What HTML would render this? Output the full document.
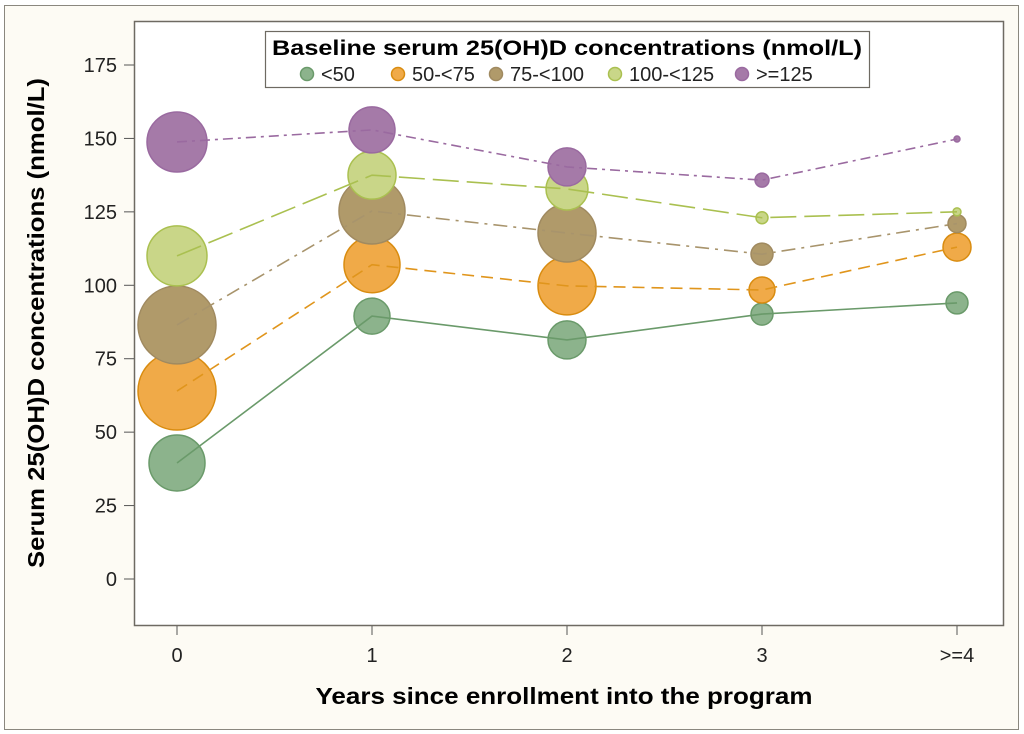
<!DOCTYPE html>
<html><head><meta charset="utf-8"><style>
body{margin:0;background:#fff;}
svg{display:block;font-family:"Liberation Sans",Arial,sans-serif;}
</style></head><body>
<svg id="chart" width="1024" height="734" viewBox="0 0 1024 734">
<rect x="4.5" y="5.5" width="1014" height="724" fill="#fdfbf4" stroke="#8a877e"/>
<rect x="134.5" y="21.5" width="869" height="604" fill="#ffffff" stroke="#6e6a62" stroke-width="1.5"/>
<g id="axes"></g>
<g id="marks"></g>
<g id="lines"></g>
<text x="44" y="323" transform="rotate(-90 44 323)" text-anchor="middle" font-size="23" font-weight="bold" fill="#000" textLength="490" lengthAdjust="spacingAndGlyphs">Serum 25(OH)D concentrations (nmol/L)</text>
<text x="564" y="704" text-anchor="middle" font-size="23" font-weight="bold" fill="#000" textLength="497" lengthAdjust="spacingAndGlyphs">Years since enrollment into the program</text>
<g>
<rect x="265.5" y="31.5" width="604" height="56" fill="#fff" stroke="#6e6a62" stroke-width="1.2"/>
<text x="567" y="55" text-anchor="middle" font-size="21" font-weight="bold" textLength="590" lengthAdjust="spacingAndGlyphs">Baseline serum 25(OH)D concentrations (nmol/L)</text>
<g id="legend-items"></g>
</g>
</svg>
<script>
const categories = ["0","1","2","3",">=4"];
const yTicks = [0,25,50,75,100,125,150,175];
const seriesNames = ["<50","50-<75","75-<100","100-<125",">=125"];
const valsLt50 = [39.5,89.5,81.4,90.2,94];
const vals50to75 = [64,107,99.8,98.4,113];
const vals75to100 = [86.5,125.3,117.8,110.6,121];
const vals100to125 = [110,137.5,132.8,123,125];
const valsGe125 = [148.8,152.9,140.3,135.8,149.8];
const sizeLt50 = [28,18,19,11,11];
const size50to75 = [39,28,29,13,14];
const size75to100 = [39,33,29,11,9];
const size100to125 = [30,24,21,6,4];
const sizeGe125 = [30,23,19,7,3];

const NS="http://www.w3.org/2000/svg";
const X0=177, XSTEP=195, Y0=579, YPER=(579-65)/175;
const xs=i=>X0+i*XSTEP;
const ys=v=>Y0-v*YPER;
const styles=[
 {fill:"#8cb38c",stroke:"#6a9a6a",line:"#6a9a6a",dash:""},
 {fill:"#f0aa48",stroke:"#d98c10",line:"#e0951c",dash:"12,7"},
 {fill:"#b09a6a",stroke:"#a08a60",line:"#a8946c",dash:"14,6,3,6"},
 {fill:"#c9d688",stroke:"#aac050",line:"#aac050",dash:"26,8"},
 {fill:"#a57aa8",stroke:"#9a6aa0",line:"#9a6aa0",dash:"10,5,3,5"}];
const allVals=[valsLt50,vals50to75,vals75to100,vals100to125,valsGe125];
const allSizes=[sizeLt50,size50to75,size75to100,size100to125,sizeGe125];
function mk(t,a,p){const e=document.createElementNS(NS,t);for(const k in a)e.setAttribute(k,a[k]);p.appendChild(e);return e;}
const axes=document.getElementById('axes');
yTicks.forEach(v=>{
 const l=mk('line',{x1:124,x2:134,y1:ys(v),y2:ys(v),stroke:'#555'},axes);
 
 
 const t=mk('text',{x:117,y:ys(v)+7,'text-anchor':'end','font-size':20,fill:'#222'},axes);
 t.textContent=v;
 
 
});
categories.forEach((c,i)=>{
 const l=mk('line',{x1:xs(i),x2:xs(i),y1:626,y2:635,stroke:'#555'},axes);
 
 
 const t=mk('text',{x:xs(i),y:662,'text-anchor':'middle','font-size':20,fill:'#222'},axes);
 t.textContent=c;
 
 
});
const marks=document.getElementById('marks'), lines=document.getElementById('lines');
allVals.forEach((vals,s)=>{
 const st=styles[s];
 vals.forEach((v,i)=>{
  const c=mk('circle',{cx:xs(i),cy:ys(v),r:allSizes[s][i],fill:st.fill,stroke:st.stroke,'stroke-width':1.5},marks);
  
  
 });
 const p=mk('polyline',{points:vals.map((v,i)=>xs(i)+','+ys(v)).join(' '),fill:'none',stroke:st.line,'stroke-width':1.6,'stroke-dasharray':st.dash},lines);
 
 
});
const leg=document.getElementById('legend-items');
const lx=[307,398,496,615,742];
seriesNames.forEach((n,s)=>{
 const c=mk('circle',{cx:lx[s],cy:74,r:6.5,fill:styles[s].fill,stroke:styles[s].stroke,'stroke-width':1.5},leg);
 
 
 const t=mk('text',{x:lx[s]+14,y:81,'font-size':20,fill:'#222'},leg);
 t.textContent=n;
 
 
});
</script>
</body></html>
